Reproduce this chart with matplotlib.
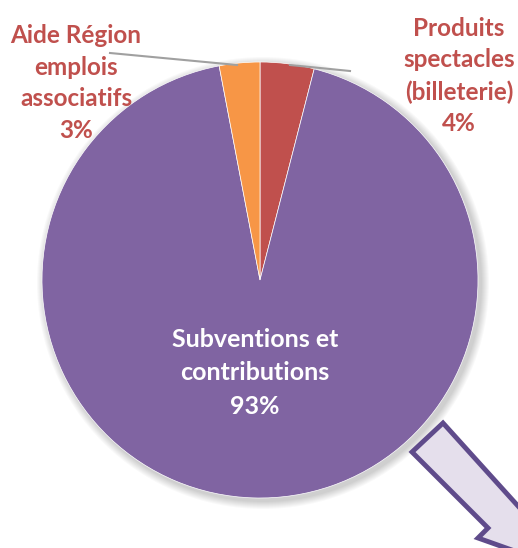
import matplotlib.pyplot as plt
from matplotlib.patches import Polygon, Circle

labels = ['Produits\nspectacles\n(billeterie)', 'Subventions et\ncontributions', 'Aide Région\nemplois\nassociatifs']
shares = [4, 93, 3]
colors = ['#C0504D', '#8064A2', '#F79646']

plt.rcParams['font.family'] = ['Lato', 'DejaVu Sans']

fig = plt.figure(figsize=(5.18, 5.48), dpi=100)
ax = fig.add_axes([0, 0, 1, 1])

cx, cy, r = 260, 280, 218

# soft shadow behind the pie
for i in range(8):
    ax.add_patch(Circle((cx + 3, cy + 3), r + 8 - i, color='#000000', alpha=0.025, lw=0, zorder=1))

# y axis is inverted, so counterclock=True draws clockwise on screen
ax.pie(shares, colors=colors, startangle=-90, counterclock=True, center=(cx, cy), radius=r,
       wedgeprops=dict(linewidth=0.5, edgecolor='white', zorder=2), frame=True)
ax.set_xlim(0, 518)
ax.set_ylim(548, 0)
ax.set_aspect('equal')
ax.axis('off')

# leader lines
ax.plot([110, 237], [53, 65], color='#A0A0A0', lw=1.5, zorder=3)
ax.plot([290, 350], [65, 71], color='#A0A0A0', lw=1.5, zorder=3)

lab_kw = dict(color='#C0504D', fontsize=17.5, fontweight='bold', ha='center', va='center', linespacing=1.45)
ax.text(76, 83, labels[2] + '\n%d%%' % shares[2], **lab_kw)
ax.text(459, 76, labels[0] + '\n%d%%' % shares[0], **lab_kw)
ax.text(255, 373, labels[1] + '\n%d%%' % shares[1], color='white', fontsize=18,
        fontweight='bold', ha='center', va='center', linespacing=1.55, zorder=4)

# decorative arrow, bottom right
arrow = Polygon([(443, 423), (412, 452), (488, 528), (478, 538), (540, 560), (528, 496), (518, 506)],
                closed=True, facecolor='#E5DFEC', edgecolor='#5F4B8B', lw=3.5, zorder=5)
ax.add_patch(arrow)

fig.savefig('out.png', dpi=100)
